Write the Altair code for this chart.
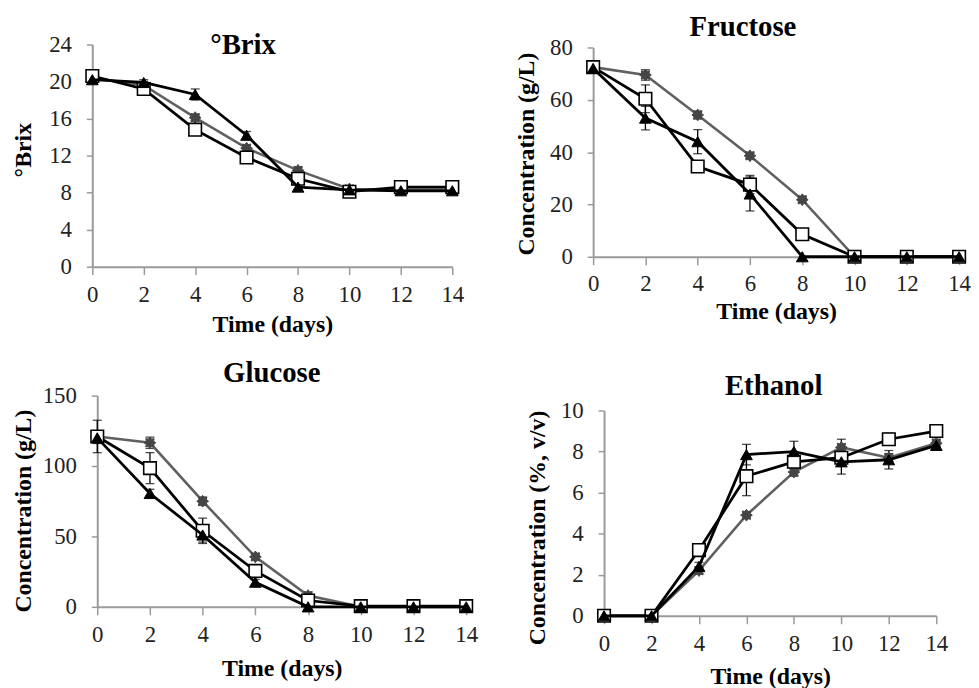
import altair as alt
import pandas as pd

# ---------------- data ----------------
days = [0, 2, 4, 6, 8, 10, 12, 14]

# °Brix
brix_tri = [20.2, 19.9, 18.6, 14.2, 8.6, 8.3, 8.2, 8.2]
brix_sq = [20.6, 19.2, 14.8, 11.8, 9.5, 8.1, 8.6, 8.6]
brix_gray = [20.4, 19.6, 16.1, 12.8, 10.4, 8.4, 8.3, 8.3]
brix_tri_err = [0.3, 0.3, 0.6, 0.4, 0.3, 0.2, 0.2, 0.2]
brix_sq_err = [0.3, 0.3, 0.3, 0.3, 0.3, 0.2, 0.2, 0.2]
brix_gray_err = [0.2, 0.2, 0.3, 0.3, 0.3, 0.2, 0.2, 0.2]

# Fructose (g/L)
fru_tri = [72.0, 53.0, 44.0, 24.0, 0.0, 0.0, 0.0, 0.0]
fru_sq = [72.5, 60.4, 34.5, 27.6, 8.6, 0.0, 0.0, 0.0]
fru_gray = [72.5, 69.5, 54.2, 38.6, 21.8, 0.0, 0.0, 0.0]
fru_tri_err = [1.5, 4.5, 4.6, 6.5, 0.0, 0.0, 0.0, 0.0]
fru_sq_err = [2.0, 5.3, 1.0, 3.5, 1.0, 0.5, 0.5, 0.5]
fru_gray_err = [1.0, 2.0, 1.5, 1.0, 1.0, 0.0, 0.0, 0.0]

# Glucose (g/L)
glu_tri = [120.0, 80.5, 51.0, 17.5, 0.0, 0.0, 0.0, 0.0]
glu_sq = [121.0, 98.5, 54.0, 25.5, 4.5, 0.5, 0.5, 0.5]
glu_gray = [121.0, 116.5, 75.0, 35.5, 8.0, 0.0, 0.0, 0.0]
glu_tri_err = [4.0, 3.0, 5.0, 2.0, 0.0, 0.0, 0.0, 0.0]
glu_sq_err = [11.5, 11.0, 9.0, 2.0, 1.0, 0.0, 0.0, 0.0]
glu_gray_err = [3.0, 4.0, 3.0, 2.0, 1.0, 0.0, 0.0, 0.0]

# Ethanol (%, v/v)
eth_tri = [0.0, 0.0, 2.4, 7.85, 8.0, 7.5, 7.6, 8.3]
eth_sq = [0.0, 0.0, 3.2, 6.8, 7.5, 7.7, 8.6, 9.0]
eth_gray = [0.0, 0.0, 2.2, 4.9, 7.0, 8.2, 7.7, 8.4]
eth_tri_err = [0.0, 0.0, 0.2, 0.5, 0.5, 0.6, 0.45, 0.2]
eth_sq_err = [0.0, 0.0, 0.1, 0.95, 0.2, 0.3, 0.3, 0.1]
eth_gray_err = [0.0, 0.0, 0.15, 0.15, 0.2, 0.4, 0.2, 0.2]

titles = ["°Brix", "Fructose", "Glucose", "Ethanol"]
y_titles = ["°Brix", "Concentration (g/L)", "Concentration (g/L)", "Concentration (%, v/v)"]
x_title = "Time (days)"
x_ticks = [0, 2, 4, 6, 8, 10, 12, 14]
y_domains = [[0, 24], [0, 80], [0, 150], [0, 10]]
y_ticks = [[0, 4, 8, 12, 16, 20, 24], [0, 20, 40, 60, 80], [0, 50, 100, 150], [0, 2, 4, 6, 8, 10]]

series_values = [
    (brix_gray, brix_sq, brix_tri),
    (fru_gray, fru_sq, fru_tri),
    (glu_gray, glu_sq, glu_tri),
    (eth_gray, eth_sq, eth_tri),
]
series_errors = [
    (brix_gray_err, brix_sq_err, brix_tri_err),
    (fru_gray_err, fru_sq_err, fru_tri_err),
    (glu_gray_err, glu_sq_err, glu_tri_err),
    (eth_gray_err, eth_sq_err, eth_tri_err),
]

# ---------------- layout / style ----------------
FONT = "Liberation Serif"
W, H = 971, 680
AXIS_GREY = "#9a9a9a"

# plot-area boxes of the four panels (chart pixels): x range, y range
layout = [
    dict(xr=[85, 448], yr=[258, 34], ytx=-69, yty=140, xty=58, lp=20, tx=237, ty=44),
    dict(xr=[590, 959], yr=[248, 37], ytx=-67, yty=144, xty=55, lp=19, tx=741, ty=25),
    dict(xr=[90, 462], yr=[601, 388], ytx=-74, yty=504, xty=62, lp=20, tx=266, ty=374),
    dict(xr=[601, 936], yr=[610, 403], ytx=-67, yty=521, xty=61, lp=20, tx=772, ty=387),
]

STAR = ("M0,-1 L0.28,-0.62 L0.71,-0.71 L0.62,-0.28 L1,0 L0.62,0.28 L0.71,0.71 "
        "L0.28,0.62 L0,1 L-0.28,0.62 L-0.71,0.71 L-0.62,0.28 L-1,0 L-0.62,-0.28 "
        "L-0.71,-0.71 L-0.28,-0.62 Z")

series_style = [
    dict(line="#606060", lw=2.6, shape=STAR, fill="#454545", stroke="#454545", size=140, sw=1),
    dict(line="#000000", lw=2.8, shape="square", fill="#ffffff", stroke="#000000", size=160, sw=1.6),
    dict(line="#000000", lw=2.8, shape="triangle-up", fill="#000000", stroke="#000000", size=140, sw=1),
]


def x_enc(i):
    L = layout[i]
    return alt.X(
        "day:Q",
        scale=alt.Scale(domain=[0, 14], range=L["xr"], nice=False, zero=False),
        axis=alt.Axis(
            orient="bottom", offset=L["yr"][0] - H, values=x_ticks, grid=False,
            title=x_title, titleFont=FONT, titleFontSize=24, titleFontWeight="bold",
            titleColor="#000000", titleY=L["xty"], titleBaseline="middle",
            labelFont=FONT, labelFontSize=23, labelColor="#222222", labelBaseline="middle",
            labelPadding=L["lp"], labelFlush=False, labelOverlap=False,
            tickSize=8, tickColor=AXIS_GREY, tickWidth=1.5,
            domainColor=AXIS_GREY, domainWidth=2,
        ),
    )


def y_enc(i, field):
    L = layout[i]
    return alt.Y(
        f"{field}:Q",
        scale=alt.Scale(domain=y_domains[i], range=L["yr"], nice=False, zero=False),
        axis=alt.Axis(
            orient="left", offset=-L["xr"][0], values=y_ticks[i], grid=False,
            title=y_titles[i], titleFont=FONT, titleFontSize=24, titleFontWeight="bold",
            titleColor="#000000", titleX=L["ytx"], titleY=L["yty"], titleBaseline="middle",
            titleAngle=270,
            labelFont=FONT, labelFontSize=23, labelColor="#222222", labelBaseline="middle",
            labelPadding=15, labelOverlap=False, labelFlush=False,
            tickSize=6, tickColor=AXIS_GREY, tickWidth=1.5,
            domainColor=AXIS_GREY, domainWidth=2,
        ),
    )


def panel(i):
    layers = []
    # error bars
    err_rows = []
    cap_rows = []
    for vals, errs in zip(series_values[i], series_errors[i]):
        for d, v, e in zip(days, vals, errs):
            if e > 0:
                err_rows.append({"day": d, "lo": v - e, "hi": v + e})
                cap_rows.append({"day": d, "cap": v - e})
                cap_rows.append({"day": d, "cap": v + e})
    err_df = pd.DataFrame(err_rows)
    cap_df = pd.DataFrame(cap_rows)
    layers.append(
        alt.Chart(err_df).mark_rule(color="#000000", strokeWidth=1.3).encode(
            x=x_enc(i), y=y_enc(i, "lo"), y2="hi:Q"
        )
    )
    layers.append(
        alt.Chart(cap_df).mark_tick(orient="horizontal", color="#000000", size=9, thickness=1.3).encode(
            x=x_enc(i), y=y_enc(i, "cap")
        )
    )
    for vals, st in zip(series_values[i], series_style):
        df = pd.DataFrame({"day": days, "value": vals})
        base = alt.Chart(df)
        layers.append(
            base.mark_line(color=st["line"], strokeWidth=st["lw"]).encode(
                x=x_enc(i), y=y_enc(i, "value")
            )
        )
        layers.append(
            base.mark_point(shape=st["shape"], filled=True, fill=st["fill"], stroke=st["stroke"],
                            strokeWidth=st["sw"], size=st["size"], opacity=1).encode(
                x=x_enc(i), y=y_enc(i, "value")
            )
        )
    return alt.layer(*layers)


title_layers = []
for i, t in enumerate(titles):
    L = layout[i]
    title_layers.append(
        alt.Chart(pd.DataFrame({"t": [t]})).mark_text(
            font=FONT, fontSize=29, fontWeight="bold", color="#000000",
            align="center", baseline="alphabetic",
        ).encode(x=alt.value(L["tx"]), y=alt.value(L["ty"]), text="t:N")
    )

chart = (
    alt.layer(*[panel(i) for i in range(4)], *title_layers)
    .resolve_scale(x="independent", y="independent")
    .properties(width=W, height=H, padding=0, autosize=alt.AutoSizeParams(type="none"),
                background="#ffffff")
    .configure_view(stroke=None)
)

chart.save("out.html", embed_options={"renderer": "svg", "actions": False})
